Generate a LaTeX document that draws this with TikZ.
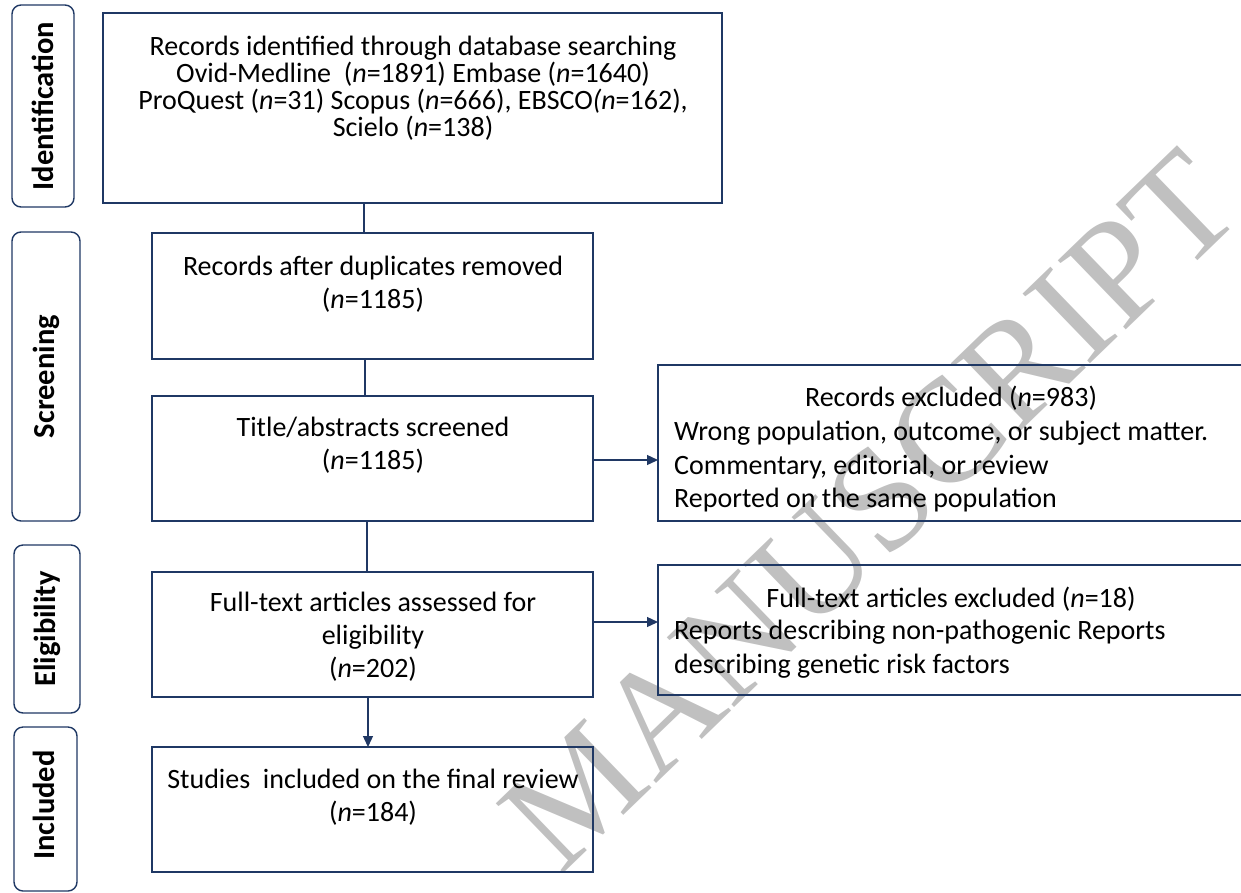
\documentclass[tikz,border=0pt]{standalone}
\usepackage{fontspec}
\setmainfont{Carlito}
\newfontfamily\wmfont{Liberation Serif}
\usetikzlibrary{arrows.meta}
\definecolor{navy}{HTML}{1F3864}
\definecolor{linkc}{HTML}{203864}
\definecolor{wmgray}{HTML}{C0C0C0}
\begin{document}
\begin{tikzpicture}[x=1pt,y=-1pt,
  box/.style={draw=navy, line width=1.6pt, rectangle, inner sep=0pt, outer sep=0pt, anchor=north west},
  side/.style={draw=navy, line width=1.4pt, rectangle, rounded corners=9pt, inner sep=0pt, outer sep=0pt, anchor=north west},
  sidetxt/.style={font=\fontsize{30.5}{32}\selectfont\bfseries, rotate=90, inner sep=0pt},
  txt/.style={font=\fontsize{28}{27}\selectfont, align=center, inner sep=0pt},
  txtb/.style={font=\fontsize{28}{33}\selectfont, align=center, inner sep=0pt},
  txtl/.style={font=\fontsize{28}{33.5}\selectfont, align=left, inner sep=0pt, anchor=west},
  link/.style={draw=linkc, line width=1.3pt},
  arr/.style={link, -{Triangle[length=11pt,width=10pt]}},
  wm/.style={font=\wmfont\fontsize{148}{148}\selectfont, text=wmgray, inner sep=0pt}
]
\useasboundingbox (0,0) rectangle (1241,892);

% watermark
\node[wm, rotate=44] (wmark) at (870,510) {MANUSCRIPT};

% side labels
\node[side, minimum width=62pt, minimum height=202pt] (sid) at (12,5) {};
\node[sidetxt] (sidt) at (sid.center) {Identification};
\node[side, minimum width=68pt, minimum height=289pt] (ssc) at (12,232) {};
\node[sidetxt] (ssct) at (ssc.center) {Screening};
\node[side, minimum width=66pt, minimum height=168pt] (sel) at (14,545) {};
\node[sidetxt] (selt) at (sel.center) {Eligibility};
\node[side, minimum width=63pt, minimum height=164pt] (sin) at (14,727) {};
\node[sidetxt] (sint) at (44,805) {Included};

% main boxes
\node[box, minimum width=619pt, minimum height=190pt] (b1) at (103,13) {};
\node[box, minimum width=441pt, minimum height=126pt] (b2) at (152,233) {};
\node[box, minimum width=441pt, minimum height=125pt] (b3) at (152,396) {};
\node[box, minimum width=590pt, minimum height=156pt] (b4) at (658,365) {};
\node[box, minimum width=441pt, minimum height=125pt] (b5) at (152,572) {};
\node[box, minimum width=590pt, minimum height=130pt] (b6) at (658,565) {};
\node[box, minimum width=441pt, minimum height=125pt] (b7) at (152,747) {};

% texts
\node[txt] (b1t) at (413,88) {Records identified through database searching\\
Ovid-Medline\ \ (\textit{n}=1891) Embase (\textit{n}=1640)\\
ProQuest (\textit{n}=31) Scopus (\textit{n}=666), EBSCO\textit{(n}=162),\\
Scielo (\textit{n}=138)};
\node[txtb] (b2t) at (373,284) {Records after duplicates removed\\(\textit{n}=1185)};
\node[txtb] (b3t) at (373,445) {Title/abstracts screened\\(\textit{n}=1185)};
\node[txtb] (b5t) at (373,637) {Full-text articles assessed for\\eligibility\\(\textit{n}=202)};
\node[txtb] (b7t) at (373,797) {Studies\ \ included on the final review\\(\textit{n}=184)};
\node[txtb] (b4h) at (951,398) {Records excluded (\textit{n}=983)};
\node[txtl] (b4t) at (674,467) {Wrong population, outcome, or subject matter.\\
Commentary, editorial, or review\\
Reported on the same population};
\node[txtb] (b6h) at (951,599) {Full-text articles excluded (\textit{n}=18)};
\node[txtl] (b6t) at (674,649) {Reports describing non-pathogenic Reports\\
describing genetic risk factors};

% connectors
\draw[link] (b1.south -| 364,0) -- (b2.north -| 364,0);
\draw[link] (b2.south -| 365,0) -- (b3.north -| 365,0);
\draw[link] (b3.south -| 367,0) -- (b5.north -| 367,0);
\draw[arr] (b5.south -| 368,0) -- (b7.north -| 368,0);
\draw[arr] (b3.east |- 0,460) -- (b4.west |- 0,460);
\draw[arr] (b5.east |- 0,622) -- (b6.west |- 0,622);
\end{tikzpicture}
\end{document}
